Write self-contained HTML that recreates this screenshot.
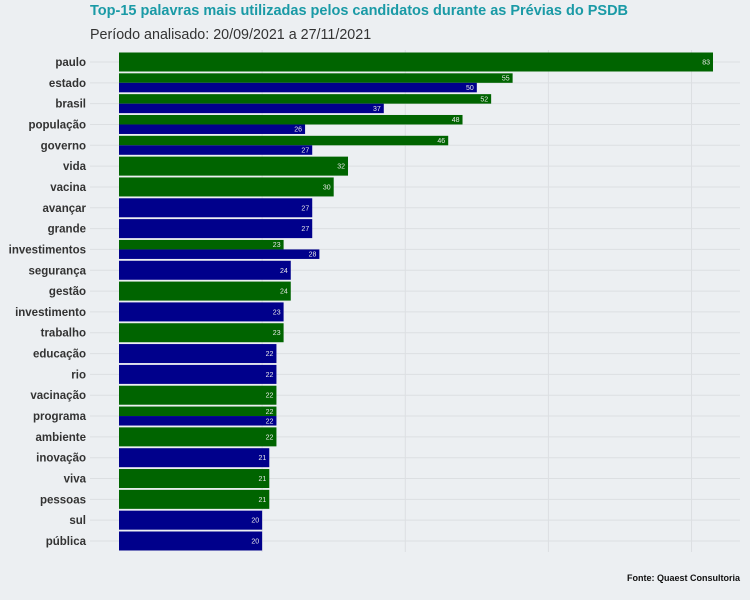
<!DOCTYPE html>
<html><head><meta charset="utf-8"><style>
body{margin:0;background:#eceff2;}
svg{display:block;font-family:"Liberation Sans",sans-serif;}
</style></head><body>
<svg id="chart" width="750" height="600">
<rect width="750" height="600" fill="#eceff2"/>
<text x="90" y="15" font-size="14.5" font-weight="bold" fill="#1a9aa6">Top-15 palavras mais utilizadas pelos candidatos durante as Prévias do PSDB</text>
<text x="90" y="39" font-size="14.3" fill="#333">Período analisado: 20/09/2021 a 27/11/2021</text>
<text x="740" y="581" font-size="9" font-weight="bold" fill="#111" text-anchor="end">Fonte: Quaest Consultoria</text>
<g id="grid"></g><g id="bars"></g><g id="labels"></g>
</svg>
<script>
const categories=["paulo","estado","brasil","população","governo","vida","vacina","avançar","grande","investimentos","segurança","gestão","investimento","trabalho","educação","rio","vacinação","programa","ambiente","inovação","viva","pessoas","sul","pública"];
const greenValues=[83,55,52,48,46,32,30,null,null,23,null,24,null,23,null,null,22,22,22,null,21,21,null,null];
const blueValues=[null,50,37,26,27,null,null,27,27,28,24,null,23,null,22,22,null,22,null,21,null,null,20,20];
const gridTicks=[20,40,60,80];
const NS="http://www.w3.org/2000/svg";
const x0=119,scale=(713-119)/83,y0=62,step=(541-62)/23,bh=19;
const xs=v=>x0+v*scale, ys=i=>y0+i*step;
function mk(t,a,p){const e=document.createElementNS(NS,t);for(const k in a)e.setAttribute(k,a[k]);p.appendChild(e);return e;}
const grid=document.getElementById('grid'),bars=document.getElementById('bars'),labels=document.getElementById('labels');
gridTicks.forEach(t=>{const l=mk('line',{x1:xs(t),x2:xs(t),y1:50,y2:552,stroke:'#dcdfe2','stroke-width':1},grid);

});
categories.forEach((c,i)=>{
 const y=ys(i);
 const g=mk('line',{x1:90,x2:740,y1:y,y2:y,stroke:'#dcdfe2','stroke-width':1},grid);
 
 
 const t=mk('text',{x:86,y:y+4,'font-size':11.5,'font-weight':'bold',fill:'#333','text-anchor':'end'},labels);
 t.textContent=c;
 
 
 const gv=greenValues[i],bv=blueValues[i];
 const segs=[];
 if(gv!=null&&bv!=null){segs.push([gv,'#006400',y-bh/2,bh/2,'green-bar']);segs.push([bv,'#00008b',y,bh/2,'blue-bar']);}
 else if(gv!=null)segs.push([gv,'#006400',y-bh/2,bh,'green-bar']);
 else segs.push([bv,'#00008b',y-bh/2,bh,'blue-bar']);
 segs.forEach(s=>{
  const r=mk('rect',{x:x0,y:s[2],width:xs(s[0])-x0,height:s[3],fill:s[1]},bars);
  
  
  const v=mk('text',{x:xs(s[0])-3,y:s[2]+s[3]/2+2.5,'font-size':7,fill:'#e8e8e8','text-anchor':'end'},labels);
  v.textContent=s[0];
  
  
 });
});
</script>
</body></html>
